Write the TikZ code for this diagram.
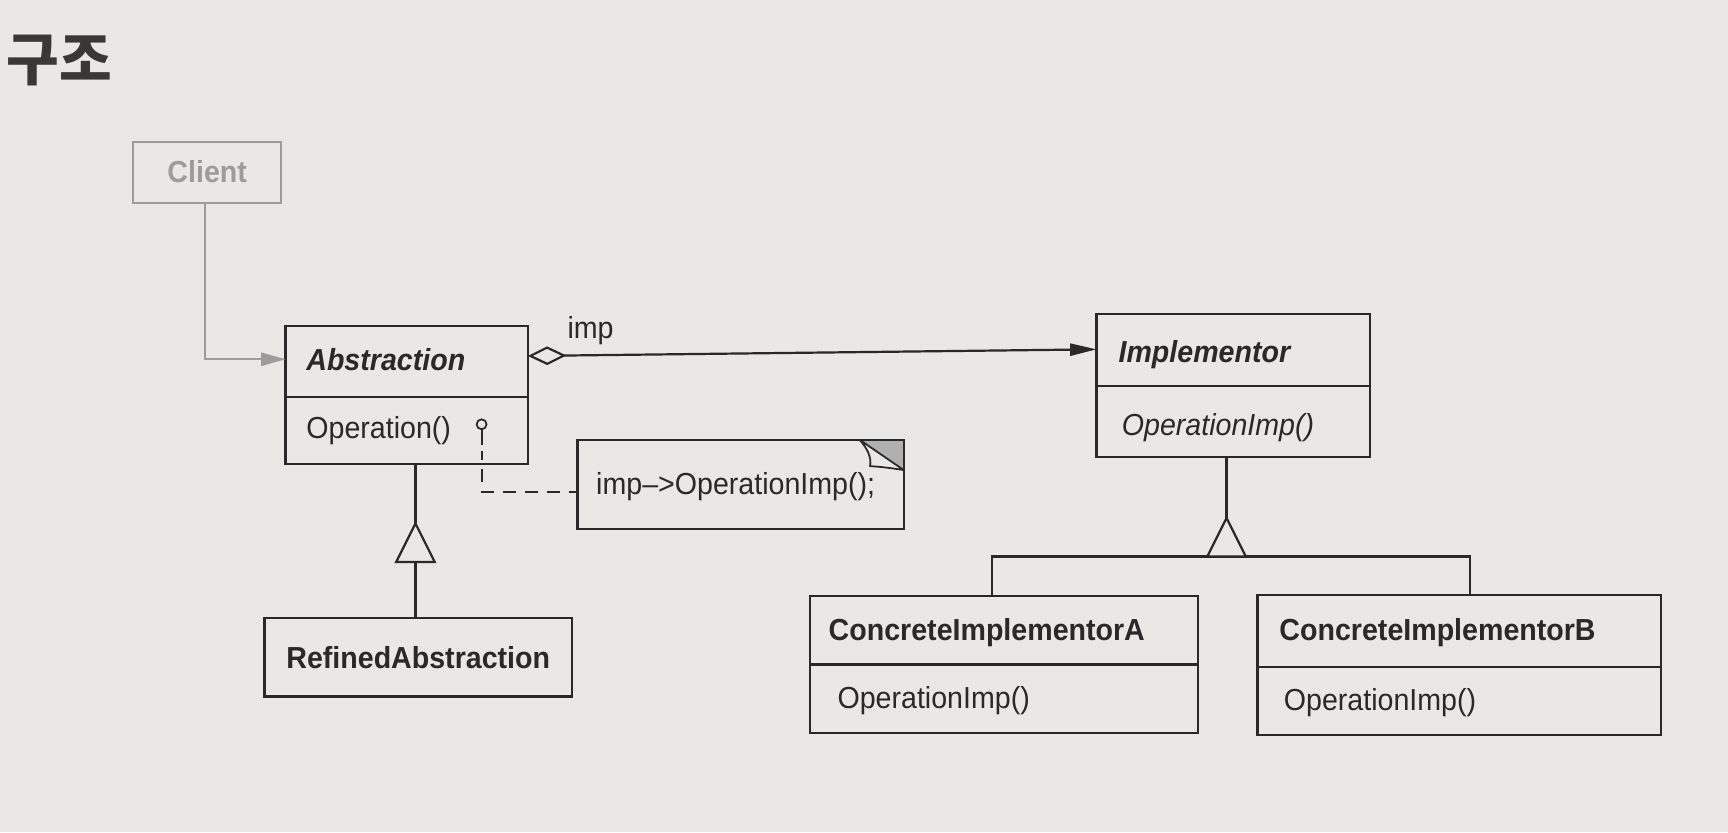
\documentclass[tikz,border=0pt]{standalone}
\usepackage{fontspec}
\setmainfont{Liberation Sans}[FakeStretch=0.94]
\newfontfamily\kr{Noto Sans CJK KR}
\usetikzlibrary{arrows.meta,calc}
\definecolor{bg}{RGB}{234,232,228}
\definecolor{ink}{RGB}{42,40,40}
\definecolor{cgray}{RGB}{158,156,154}
\definecolor{foldc}{RGB}{176,176,176}
\definecolor{titlec}{RGB}{58,56,54}
\begin{document}
\begin{tikzpicture}[x=0.5pt,y=-0.5pt,
  every node/.style={inner sep=0pt,outer sep=0pt},
  cls/.style={draw=ink,line width=1pt,rectangle},
  lbl/.style={anchor=base west,text=ink,font=\fontsize{13.8pt}{16pt}\selectfont},
  lblb/.style={lbl,font=\fontsize{13.8pt}{16pt}\selectfont\bfseries},
  lblbi/.style={lbl,font=\fontsize{13.8pt}{16pt}\selectfont\bfseries\itshape},
  lbli/.style={lbl,font=\fontsize{13.8pt}{16pt}\selectfont\itshape},
  conn/.style={draw=ink,line width=1pt},
  inh/.style={draw=ink,line width=1pt,fill=bg,line join=miter}]
\fill[bg] (0,0) rectangle (1568,755);
\useasboundingbox (0,0) rectangle (1568,755);

% title
\node[anchor=west,text=titlec,font=\kr\bfseries\fontsize{26pt}{28pt}\selectfont] (title) at (6,55) {구조};

% Client
\node[draw=cgray,line width=0.8pt,minimum width=67pt,minimum height=27.5pt] (client) at (188,156.5) {};
\node[anchor=base,text=cgray,font=\fontsize{13.8pt}{16pt}\selectfont\bfseries] (clienttxt) at (188,166) {Client};

% Abstraction
\node[cls,minimum width=110pt,minimum height=62.5pt] (abs) at (369,358.5) {};
\draw[conn] (abs.west |- 0,360) -- (abs.east |- 0,360);
\node[lblbi] (abst) at (278,336) {Abstraction};
\node[lbl] (absop) at (278,398) {Operation()};
\node[circle,draw=ink,line width=0.8pt,minimum size=4.5pt] (circ) at (437,385) {};

% Implementor
\node[cls,minimum width=124pt,minimum height=65pt] (impl) at (1119,350) {};
\draw[conn] (impl.west |- 0,350) -- (impl.east |- 0,350);
\node[lblbi] (implt) at (1015,329) {Implementor};
\node[lbli] (implop) at (1018,395) {OperationImp()};

% ConcreteImplementorA
\node[cls,minimum width=176pt,minimum height=62pt] (cia) at (911,603) {};
\draw[conn] (cia.west |- 0,603) -- (cia.east |- 0,603);
\node[lblb] (ciat) at (752,581) {ConcreteImplementorA};
\node[lbl] (ciaop) at (760,643) {OperationImp()};

% ConcreteImplementorB
\node[cls,minimum width=183pt,minimum height=63.5pt] (cib) at (1324,603.5) {};
\draw[conn] (cib.west |- 0,605) -- (cib.east |- 0,605);
\node[lblb] (cibt) at (1161,581) {ConcreteImplementorB};
\node[lbl] (cibop) at (1165,645) {OperationImp()};

% RefinedAbstraction
\node[cls,minimum width=139.5pt,minimum height=35.5pt] (ref) at (379.5,596.5) {};
\node[anchor=base,text=ink,font=\fontsize{13.8pt}{16pt}\selectfont\bfseries] (reft) at (379.5,607) {RefinedAbstraction};

% Note
\node[cls,minimum width=148pt,minimum height=40.5pt] (note) at (672,439.5) {};
\coordinate (f1) at (780,399);
\coordinate (f2) at (820,426.5);
\coordinate (f3) at (789.5,423);
\fill[foldc] (f1) -- (note.north east) -- (f2) -- cycle;
\draw[draw=ink,line width=0.8pt,fill=bg,line join=round] (f1) .. controls (787,407) and (791,415) .. (f3) .. controls (800,423.5) and (810,425) .. (f2) -- cycle;
\draw[cls] (note.south west) rectangle (note.north east);
\node[lbl] (notet) at (541,449) {imp--{>}OperationImp();};

% Client -> Abstraction
\draw[draw=cgray,line width=0.8pt,-{Triangle[length=11pt,width=6pt]}] (client.south -| 186,0) |- (abs.west |- 0,326);

% aggregation Abstraction -> Implementor
\draw[conn,{Diamond[open,length=17.5pt,width=8.5pt]}-{Triangle[length=12pt,width=5.5pt]}] (abs.east |- 0,323) -- (impl.west |- 0,317);
\node[lbl] (implbl) at (515,307) {imp};

% dashed note link
\coordinate (dk) at (437,446);
\draw[draw=ink,line width=0.9pt] (circ.south) -- ++(0,14);
\draw[draw=ink,line width=0.9pt,dash pattern=on 6pt off 4pt,dash phase=2pt] ($(circ.south)+(0,20)$) -- (dk) -- (note.west |- dk);

% inheritance Abstraction <- RefinedAbstraction
\coordinate (ta) at (377,475);
\coordinate (tal) at (359.5,510);
\coordinate (tar) at (394.5,510);
\coordinate (tab) at (377,510);
\draw[conn] (abs.south -| ta) -- (ta);
\draw[inh] (ta) -- (tal) -- (tar) -- cycle;
\draw[conn] (tab) -- (ref.north -| tab);

% inheritance Implementor <- ConcreteImplementors
\coordinate (ti) at (1113,470);
\coordinate (til) at (1095.5,505);
\coordinate (tir) at (1130.5,505);
\coordinate (ja) at (900,505);
\coordinate (jb) at (1334,505);
\draw[conn] (impl.south -| ti) -- (ti);
\draw[conn] (cia.north -| ja) -- (ja) -- (jb) -- (cib.north -| jb);
\draw[inh] (ti) -- (til) -- (tir) -- cycle;
\end{tikzpicture}
\end{document}
